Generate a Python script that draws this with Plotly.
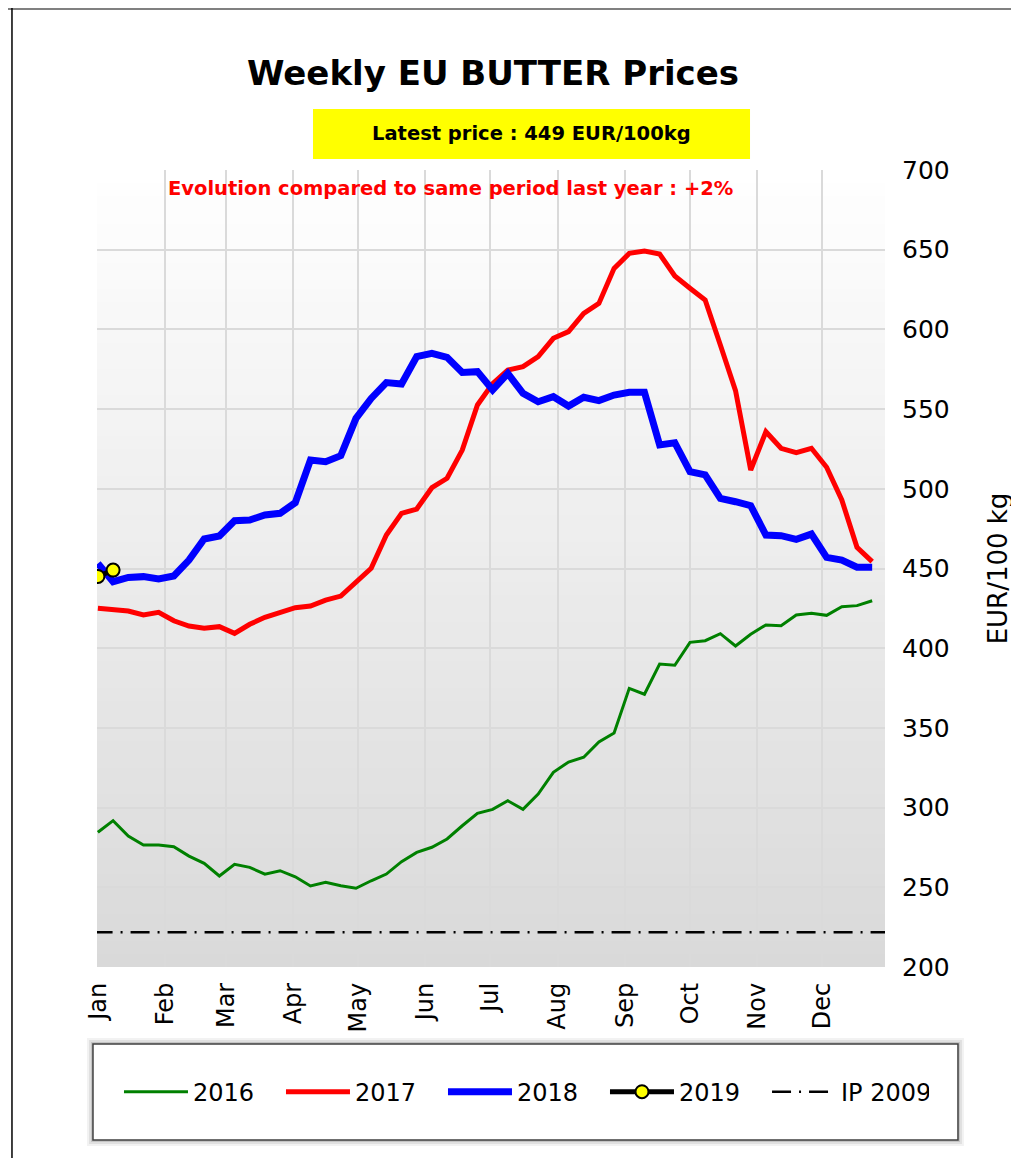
import pandas as pd
import plotly.graph_objects as go

# ---------------- data ----------------
weeks = pd.date_range("2018-01-01", periods=52, freq="7D")

y2016 = [284.5, 291.8, 282.2, 276.5, 276.5, 275.5, 269.6, 265.0, 257.1, 264.4,
         262.5, 258.2, 260.4, 256.6, 250.8, 253.1, 251.0, 249.4, 254.1, 258.3,
         266.1, 271.9, 275.1, 280.3, 288.6, 296.4, 298.9, 304.3, 298.9, 308.5,
         322.1, 328.6, 331.6, 341.2, 346.8, 374.8, 371.1, 390.1, 389.3, 403.7,
         404.7, 409.1, 401.4, 408.7, 414.6, 414.1, 420.8, 421.9, 420.6, 426.0,
         426.7, 429.8]

y2017 = [425.0, 424.0, 423.3, 420.8, 422.5, 417.2, 413.9, 412.5, 413.5, 409.3,
         415.0, 419.4, 422.3, 425.4, 426.5, 430.2, 432.7, 441.7, 450.1, 471.0,
         484.6, 487.3, 500.7, 506.6, 524.3, 552.6, 566.0, 574.5, 576.6, 582.9,
         594.4, 598.6, 610.0, 616.3, 638.3, 647.7, 649.2, 647.3, 633.5, 625.8,
         618.4, 590.2, 561.6, 511.8, 535.8, 525.4, 522.7, 525.4, 513.5, 493.0,
         463.3, 454.3]

y2018 = [453.2, 441.7, 444.4, 444.9, 443.4, 445.3, 455.3, 468.5, 470.4, 480.0,
         480.4, 483.6, 484.6, 491.3, 518.0, 517.0, 520.8, 544.2, 556.7, 566.6,
         565.7, 582.9, 585.0, 582.5, 573.0, 573.5, 562.0, 572.4, 559.9, 554.6,
         557.8, 551.9, 557.4, 555.3, 558.8, 560.5, 560.5, 527.5, 528.9, 510.7,
         508.7, 494.0, 491.9, 489.4, 471.0, 470.6, 468.3, 471.6, 457.0, 455.3,
         450.8, 450.8]

y2019 = [445.0, 449.0]

ip2009 = 221.75

month_labels = ["Jan", "Feb", "Mar", "Apr", "May", "Jun",
                "Jul", "Aug", "Sep", "Oct", "Nov", "Dec"]
month_ticks = pd.date_range("2018-01-01", periods=12, freq="MS")

title_text = "Weekly EU BUTTER Prices"
latest_text = "Latest price : 449 EUR/100kg"
evol_text = "Evolution compared to same period last year : +2%"

FONT = "DejaVu Sans"

fig = go.Figure()

fig.add_trace(go.Scatter(x=weeks, y=y2016, mode="lines", name="2016",
                         line=dict(color="#008000", width=3)))
fig.add_trace(go.Scatter(x=weeks, y=y2017, mode="lines", name="2017",
                         line=dict(color="#ff0000", width=5)))
fig.add_trace(go.Scatter(x=weeks, y=y2018, mode="lines", name="2018",
                         line=dict(color="#0000ff", width=7)))
fig.add_trace(go.Scatter(x=weeks[:len(y2019)], y=y2019, mode="lines+markers", name="2019",
                         line=dict(color="#000000", width=5),
                         marker=dict(color="#ffff00", size=13,
                                     line=dict(color="#000000", width=2))))
fig.add_trace(go.Scatter(x=["2017-12-30", "2019-01-02"], y=[ip2009, ip2009],
                         mode="lines", name="IP 2009", legend="legend2",
                         line=dict(color="#000000", width=2.5, dash="19px,8px,2px,8px")))

shapes = []
# gradient plot background
n = 60
for i in range(n):
    t = (i + 0.5) / n
    c = int(round(217 + (255 - 217) * t))
    shapes.append(dict(type="rect", xref="x domain", yref="y domain",
                       x0=0, x1=1, y0=i / n, y1=(i + 1) / n + 0.002,
                       fillcolor=f"rgb({c},{c},{c})", line=dict(width=0),
                       layer="below"))

# outer frame lines
shapes.append(dict(type="line", xref="paper", yref="paper",
                   x0=-0.114, x1=1.2, y0=1.2022, y1=1.2022,
                   line=dict(color="#808080", width=2.5)))
shapes.append(dict(type="line", xref="paper", yref="paper",
                   x0=-0.1079, x1=-0.1079, y0=1.2035, y1=-0.25,
                   line=dict(color="#000000", width=1.5)))

# yellow box
shapes.append(dict(type="rect", xref="paper", yref="paper",
                   x0=0.2741, x1=0.8287, y0=1.0138, y1=1.0765,
                   fillcolor="#ffff00", line=dict(width=0)))

# legend box with soft shadow
lx0, lx1, ly0, ly1 = -0.0051, 1.0926, -0.2171, -0.0966
for k, op in [(6, 0.05), (4, 0.07), (2, 0.12)]:
    dx = k / 788
    dy = k / 797
    shapes.append(dict(type="rect", xref="paper", yref="paper",
                       x0=lx0 - dx, x1=lx1 + dx, y0=ly0 - dy, y1=ly1 + dy,
                       fillcolor=f"rgba(0,0,0,{op})", line=dict(width=0)))
shapes.append(dict(type="rect", xref="paper", yref="paper",
                   x0=lx0, x1=lx1, y0=ly0, y1=ly1,
                   fillcolor="#ffffff", line=dict(color="#404040", width=1.5)))

annotations = [
    dict(text=f"<b>{title_text}</b>", xref="paper", yref="paper",
         x=0.503, y=1.1217, xanchor="center", yanchor="middle", showarrow=False,
         font=dict(family=FONT, size=34, color="#000000")),
    dict(text=f"<b>{latest_text}</b>", xref="paper", yref="paper",
         x=0.5508, y=1.0464, xanchor="center", yanchor="middle", showarrow=False,
         font=dict(family=FONT, size=19.5, color="#000000")),
    dict(text=f"<b>{evol_text}</b>", xref="paper", yref="paper",
         x=0.448, y=0.9774, xanchor="center", yanchor="middle", showarrow=False,
         font=dict(family=FONT, size=19.5, color="#ff0000")),
]

legend_common = dict(orientation="h", yref="paper", y=-0.157,
                     xanchor="left", yanchor="middle",
                     bgcolor="rgba(0,0,0,0)", borderwidth=0, itemwidth=64,
                     entrywidth=83, entrywidthmode="pixels",
                     font=dict(family=FONT, size=24, color="#000000"),
                     itemclick=False, itemdoubleclick=False)

# the page adds an 8px body margin, so the figure is 8px smaller and shifted
fig.update_layout(
    width=1011, height=1150,
    margin=dict(l=89, r=134, t=162, b=191, autoexpand=False),
    paper_bgcolor="#ffffff",
    plot_bgcolor="#ffffff",
    font=dict(family=FONT, size=23, color="#000000"),
    showlegend=True,
    legend=dict(x=0.0279, **legend_common),
    legend2=dict(x=0.8503, **legend_common),
    shapes=shapes,
    annotations=annotations,
)

fig.update_xaxes(
    type="date",
    range=["2017-12-31 14:00", "2018-12-29 22:00"],
    tickmode="array",
    tickvals=month_ticks,
    ticktext=month_labels,
    tickangle=-90,
    ticks="",
    ticklabelstandoff=10,
    showgrid=True, gridcolor="#dadada", gridwidth=2,
    zeroline=False, showline=False,
    tickfont=dict(family=FONT, size=24, color="#000000"),
)

fig.update_yaxes(
    side="right",
    range=[200, 700],
    dtick=50, tick0=200,
    ticks="",
    ticklabelstandoff=16,
    showgrid=True, gridcolor="#dadada", gridwidth=2,
    zeroline=False, showline=False,
    tickfont=dict(family=FONT, size=25, color="#000000"),
    title=dict(text="EUR/100 kg", standoff=40,
               font=dict(family=FONT, size=26, color="#000000")),
)

fig.write_html("out.html")
